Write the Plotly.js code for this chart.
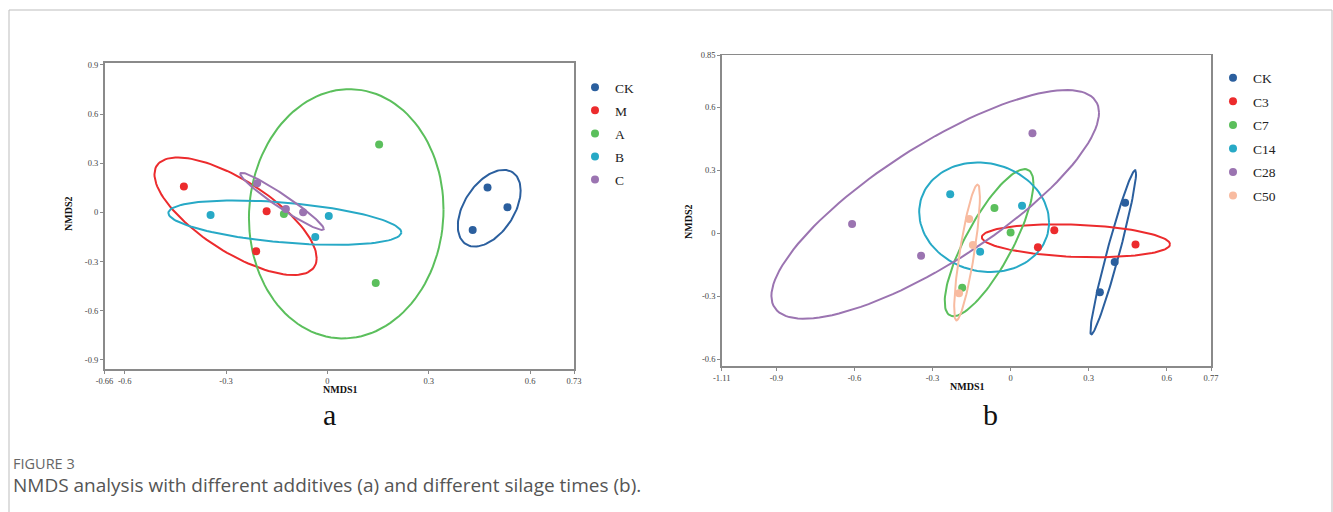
<!DOCTYPE html>
<html>
<head>
<meta charset="utf-8">
<script src="https://cdn.plot.ly/plotly-3.0.1.min.js"></script>
<style>html,body{margin:0;padding:0;background:#fff;}#chart{width:1333px;height:512px;}</style>
</head>
<body>
<div id="chart"></div>
<script>
// ---- Panel a: different additives ----
var groupsA = ['CK', 'M', 'A', 'B', 'C'];
var ckA_x = [0.474, 0.533, 0.430];   var ckA_y = [0.153, 0.032, -0.107];
var mA_x  = [-0.425, -0.180, -0.211]; var mA_y  = [0.159, 0.008, -0.236];
var aA_x  = [-0.129, 0.153, 0.143];  var aA_y  = [-0.009, 0.415, -0.430];
var bA_x  = [-0.346, 0.004, -0.036]; var bA_y  = [-0.016, -0.021, -0.149];
var cA_x  = [-0.208, -0.123, -0.072]; var cA_y  = [0.179, 0.022, 0.002];

// ---- Panel b: different silage times ----
var groupsB = ['CK', 'C3', 'C7', 'C14', 'C28', 'C50'];
var ckB_x  = [0.440, 0.400, 0.343];   var ckB_y  = [0.147, -0.136, -0.280];
var c3B_x  = [0.168, 0.105, 0.480];   var c3B_y  = [0.015, -0.066, -0.053];
var c7B_x  = [-0.062, 0.000, -0.186]; var c7B_y  = [0.122, 0.005, -0.258];
var c14B_x = [-0.232, 0.044, -0.117]; var c14B_y = [0.187, 0.132, -0.087];
var c28B_x = [-0.609, -0.344, 0.084]; var c28B_y = [0.045, -0.106, 0.477];
var c50B_x = [-0.159, -0.145, -0.198]; var c50B_y = [0.069, -0.055, -0.285];

// tick labels
var xTicksA = [-0.66, -0.6, -0.3, 0, 0.3, 0.6, 0.73];
var yTicksA = [-0.9, -0.6, -0.3, 0, 0.3, 0.6, 0.9];
var xTicksB = [-1.11, -0.9, -0.6, -0.3, 0, 0.3, 0.6, 0.77];
var yTicksB = [-0.6, -0.3, 0, 0.3, 0.6, 0.85];

var colorsA = ['#2b5f9e', '#ec2b2d', '#5bbf5c', '#27a9c6', '#9b74b1'];
var colorsB = ['#2b5f9e', '#ec2b2d', '#5bbf5c', '#27a9c6', '#9b74b1', '#f8bba0'];

var dataA = [[ckA_x, ckA_y], [mA_x, mA_y], [aA_x, aA_y], [bA_x, bA_y], [cA_x, cA_y]];
var dataB = [[ckB_x, ckB_y], [c3B_x, c3B_y], [c7B_x, c7B_y], [c14B_x, c14B_y], [c28B_x, c28B_y], [c50B_x, c50B_y]];

// covariance (confidence-type) ellipse computed from each group's points
var K = 1.8;
function ellipse(xs, ys) {
  var n = xs.length, mx = 0, my = 0;
  for (var i = 0; i < n; i++) { mx += xs[i]; my += ys[i]; }
  mx /= n; my /= n;
  var sxx = 0, syy = 0, sxy = 0;
  for (var i = 0; i < n; i++) {
    sxx += (xs[i] - mx) * (xs[i] - mx);
    syy += (ys[i] - my) * (ys[i] - my);
    sxy += (xs[i] - mx) * (ys[i] - my);
  }
  sxx /= (n - 1); syy /= (n - 1); sxy /= (n - 1);
  var l11 = Math.sqrt(sxx), l21 = sxy / l11, l22 = Math.sqrt(Math.max(syy - l21 * l21, 0));
  var ex = [], ey = [];
  for (var j = 0; j <= 120; j++) {
    var t = 2 * Math.PI * j / 120, c = Math.cos(t), s = Math.sin(t);
    ex.push(mx + K * l11 * c);
    ey.push(my + K * (l21 * c + l22 * s));
  }
  return [ex, ey];
}

var traces = [];
function addPanel(groups, data, colors, xa, ya, legendName) {
  for (var g = 0; g < groups.length; g++) {
    var e = ellipse(data[g][0], data[g][1]);
    traces.push({x: e[0], y: e[1], xaxis: xa, yaxis: ya, mode: 'lines', type: 'scatter',
      line: {color: colors[g], width: 2}, showlegend: false, hoverinfo: 'skip'});
  }
  for (var g = 0; g < groups.length; g++) {
    traces.push({x: data[g][0], y: data[g][1], xaxis: xa, yaxis: ya, mode: 'markers', type: 'scatter',
      name: groups[g], legend: legendName, legendgroup: legendName + groups[g],
      marker: {color: colors[g], size: 8}});
  }
}
addPanel(groupsA, dataA, colorsA, 'x', 'y', 'legend');
addPanel(groupsB, dataB, colorsB, 'x2', 'y2', 'legend2');

var W = 1333, H = 512;
function px(v) { return v / W; }
function py(v) { return 1 - v / H; }

var tickFont = {family: 'Liberation Serif, Times New Roman, serif', size: 8.5, color: '#444'};
var axisCommon = {showgrid: false, zeroline: false, showline: true, mirror: true,
  linecolor: '#8a8a8a', linewidth: 1.5, ticks: 'outside', ticklen: 3, tickcolor: '#8a8a8a',
  tickwidth: 1, tickfont: tickFont, fixedrange: true};

function ax(extra) { var o = {}; for (var k in axisCommon) o[k] = axisCommon[k]; for (var k in extra) o[k] = extra[k]; return o; }

var serif = 'Liberation Serif, Times New Roman, serif';
function note(text, x, y, size, extra) {
  var o = {text: text, xref: 'paper', yref: 'paper', x: px(x), y: py(y), xanchor: 'center', yanchor: 'middle',
    showarrow: false, font: {family: serif, size: size, color: '#111'}};
  for (var k in (extra || {})) o[k] = extra[k];
  return o;
}
var layout = {
  width: W, height: H,
  margin: {l: 0, r: 0, t: 0, b: 0},
  paper_bgcolor: '#fff', plot_bgcolor: '#fff',
  xaxis: ax({domain: [px(104.5), px(574)], range: [-0.66, 0.73], tickvals: xTicksA, ticktext: xTicksA.map(String), anchor: 'y'}),
  yaxis: ax({domain: [py(369), py(62.7)], range: [-0.955, 0.914], tickvals: yTicksA, ticktext: yTicksA.map(String), anchor: 'x'}),
  xaxis2: ax({domain: [px(721.7), px(1211)], range: [-1.11, 0.77], tickvals: xTicksB, ticktext: xTicksB.map(String), anchor: 'y2'}),
  yaxis2: ax({domain: [py(366), py(55)], range: [-0.631, 0.85], tickvals: yTicksB, ticktext: yTicksB.map(String), anchor: 'x2'}),
  legend: {x: px(575), y: py(72), xanchor: 'left', yanchor: 'top', bgcolor: 'rgba(0,0,0,0)',
    font: {family: serif, size: 13.5, color: '#222'}, tracegroupgap: 2.5, itemwidth: 30},
  legend2: {x: px(1213), y: py(62.5), xanchor: 'left', yanchor: 'top', bgcolor: 'rgba(0,0,0,0)',
    font: {family: serif, size: 13.5, color: '#222'}, tracegroupgap: 3, itemwidth: 30},
  shapes: [{type: 'rect', xref: 'paper', yref: 'paper', x0: px(9), x1: px(1332), y0: -0.1, y1: py(10),
    line: {color: '#bdbdbd', width: 1}, fillcolor: 'rgba(0,0,0,0)', layer: 'below'}],
  annotations: [
    note('<b>NMDS1</b>', 340, 389.5, 10),
    note('<b>NMDS2</b>', 68, 214, 10, {textangle: -90}),
    note('<b>NMDS1</b>', 967, 386, 10),
    note('<b>NMDS2</b>', 688, 222, 10, {textangle: -90}),
    note('a', 329, 414, 30),
    note('b', 990, 414, 30),
    {text: 'FIGURE 3', xref: 'paper', yref: 'paper', x: px(11), y: py(463), xanchor: 'left', yanchor: 'middle', showarrow: false,
      font: {family: 'Open Sans, sans-serif', size: 14.5, color: '#666'}},
    {text: 'NMDS analysis with different additives (a) and different silage times (b).', xref: 'paper', yref: 'paper',
      x: px(11), y: py(485), xanchor: 'left', yanchor: 'middle', showarrow: false,
      font: {family: 'Open Sans, sans-serif', size: 19, color: '#555'}}
  ]
};

Plotly.newPlot('chart', traces, layout, {staticPlot: true, displayModeBar: false});
</script>
</body>
</html>
